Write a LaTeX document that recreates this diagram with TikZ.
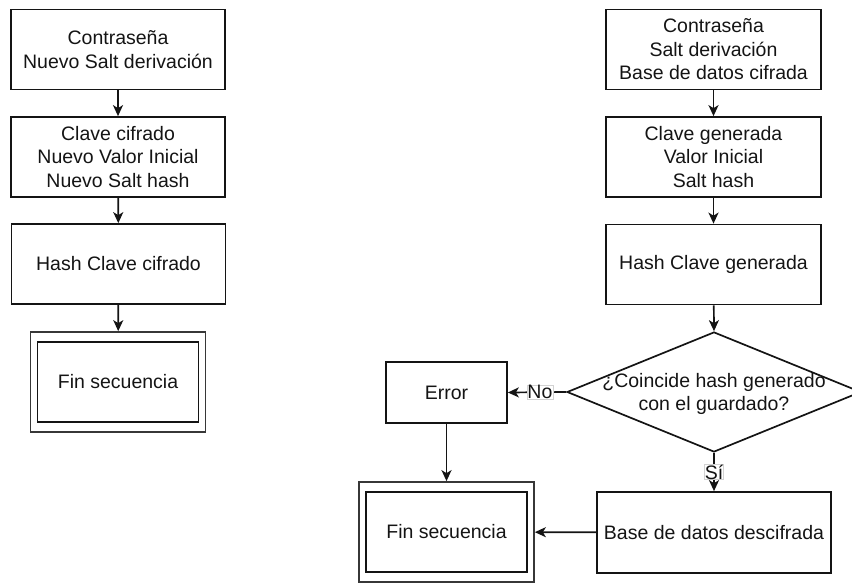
\documentclass[tikz,border=0pt]{standalone}
\usepackage{fontspec}
\setmainfont{Liberation Sans}
\usetikzlibrary{shapes.geometric,arrows.meta}

\definecolor{ink}{HTML}{141414}

\tikzset{
  every node/.style={font=\fontsize{19.5}{23.5}\selectfont, text=ink},
  stepbox/.style={draw=ink, line width=1.7pt, rectangle, inner sep=0pt,
    minimum width=#1, minimum height=80pt, align=center},
  stepbox/.default=214pt,
  endouter/.style={draw=ink!85, line width=1.7pt, rectangle, inner sep=0pt,
    minimum width=175pt, minimum height=100pt},
  endinner/.style={draw=ink, line width=1.7pt, rectangle, inner sep=0pt,
    minimum width=161pt, minimum height=80pt, align=center},
  decision/.style={draw=ink, line width=1.7pt, diamond, inner sep=0pt,
    minimum width=294pt, minimum height=120pt},
  flow/.style={draw=ink, line width=1.7pt,
    -{Stealth[length=11pt,width=10pt,inset=3pt]}},
  edgelabel/.style={fill=white, draw=gray!35, line width=0.6pt,
    inner sep=0.5pt, font=\fontsize{19.5}{22}\selectfont}
}

\begin{document}
\begin{tikzpicture}[x=1pt, y=-1pt]
  \useasboundingbox (0,0) rectangle (852,583);
  \clip (0,0) rectangle (852,583);

  % Left sequence: new encryption
  \node[stepbox] (l1) at (118,49.5) {Contraseña\\Nuevo Salt derivación};
  \node[stepbox] (l2) at (118,157) {Clave cifrado\\Nuevo Valor Inicial\\Nuevo Salt hash};
  \node[stepbox] (l3) at (118.5,264) {Hash Clave cifrado};
  \node[endouter] (lf) at (118,382) {};
  \node[endinner] (lfi) at (118,382) {Fin secuencia};

  \draw[flow] (l1) -- (l2);
  \draw[flow] (l2) -- (l3);
  \draw[flow] (l3) -- (lf);

  % Right sequence: decryption
  \node[stepbox=215pt] (r1) at (713.5,49.5) {Contraseña\\Salt derivación\\Base de datos cifrada};
  \node[stepbox=215pt] (r2) at (713.5,157) {Clave generada\\Valor Inicial\\Salt hash};
  \node[stepbox=215pt] (r3) at (713.5,264.5) {Hash Clave generada};
  \node[decision] (d) at (714,392) {};
  \node[align=center] (dt) at (714,394) {¿Coincide hash generado\\con el guardado?};
  \node[stepbox=121pt, minimum height=61pt] (err) at (446.5,392.5) {Error};
  \node[stepbox=234pt, minimum height=81pt] (db) at (714,532.5) {Base de datos descifrada};
  \node[endouter] (rf) at (446.5,532) {};
  \node[endinner] (rfi) at (446.5,532) {Fin secuencia};

  \draw[flow] (r1) -- (r2);
  \draw[flow] (r2) -- (r3);
  \draw[flow] (r3) -- (d.north);
  \draw[flow] (d.west) -- node[edgelabel, pos=0.45] {No} (err.east);
  \draw[flow] (d.south) -- node[edgelabel, pos=0.5] {Sí} (db.north);
  \draw[flow] (err) -- (rf);
  \draw[flow] (db) -- (rf);
\end{tikzpicture}
\end{document}
